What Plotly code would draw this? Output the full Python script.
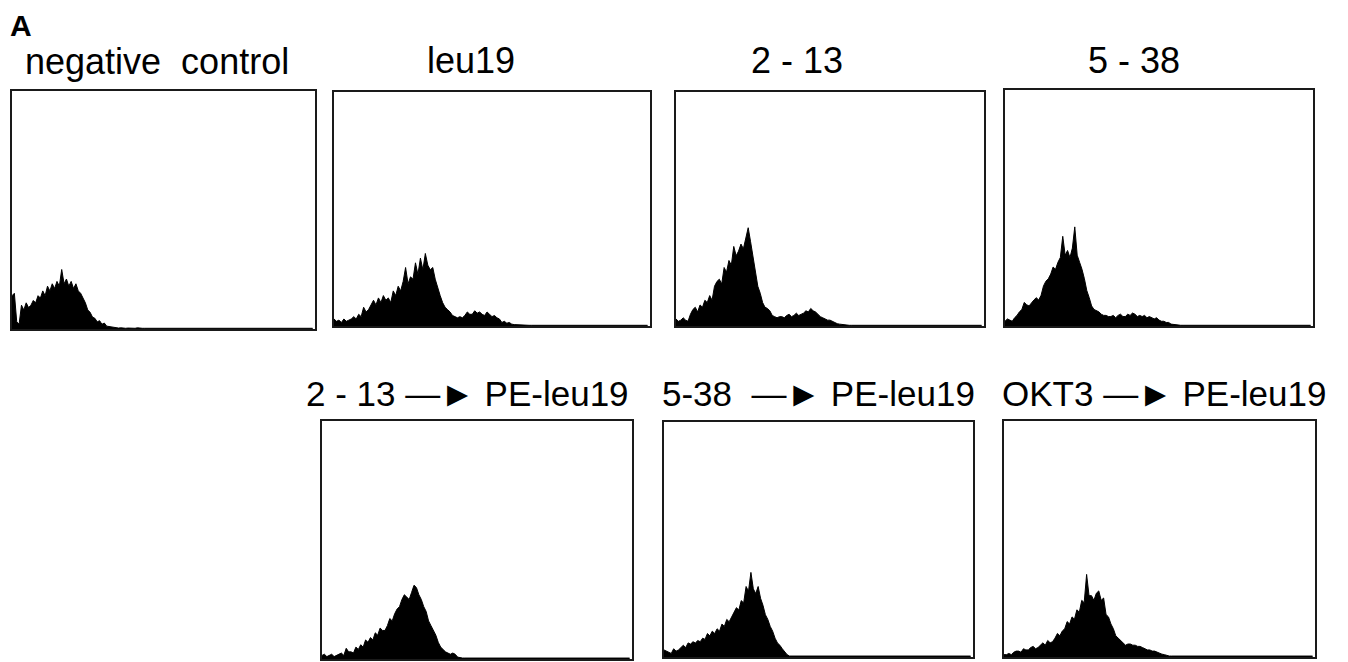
import plotly.graph_objects as go

# ---- data: histogram counts (% of panel height) per 2-channel bin ----
CHANNELS = [2 * i for i in range(128)]

titles = ["negative\u00a0 control", "leu19", "2 - 13", "5 - 38",
          "2 - 13 \u2014\u25ba PE-leu19", "5-38 \u00a0\u2014\u25ba PE-leu19", "OKT3 \u2014\u25ba PE-leu19"]

neg_control = [14, 15, 3, 2, 10, 8, 11, 9, 10, 12, 11, 14, 13, 16, 14, 18,
               16, 19, 17, 20, 18, 25, 19, 21, 18, 20, 17, 19, 16, 15, 13, 11,
               8, 7, 5, 4.5, 3, 3.5, 2, 2.5, 1.2, 1, 0.8, 0.6, 0.5, 0.4, 0.5, 0.3,
               0.3, 0.4, 0.3, 0.3, 0.3, 0.5, 0.3, 0.3, 0.3, 0.3, 0.3, 0.3, 0.3, 0.3, 0.3, 0.3,
               0.3, 0.3, 0.3, 0.3, 0.3, 0.3, 0.3, 0.3, 0.3, 0.3, 0.3, 0.3, 0.3, 0.3, 0.3, 0.3,
               0.3, 0.3, 0.3, 0.3, 0.3, 0.3, 0.3, 0.3, 0.3, 0.3, 0.3, 0.3, 0.3, 0.3, 0.3, 0.3,
               0.3, 0.3, 0.3, 0.3, 0.3, 0.3, 0.3, 0.3, 0.3, 0.3, 0.3, 0.3, 0.3, 0.3, 0.3, 0.3,
               0.3, 0.3, 0.3, 0.3, 0.3, 0.3, 0.3, 0.3, 0.3, 0.3, 0.3, 0.3, 0.3, 0.3, 0.3, 0.3]

leu19 = [3, 2, 2.5, 1.5, 3, 2, 2.5, 3, 4, 3, 5, 4, 8, 6, 7, 9,
         11, 9, 12, 10, 13, 11, 12, 10, 15, 13, 17, 15, 19, 25, 18, 21,
         20, 27, 22, 29, 24, 31, 26, 24, 25, 20, 16, 13, 10, 8, 7, 6,
         4.5, 4, 3.5, 4, 3.5, 4.5, 6, 5, 5, 6.5, 5.5, 6, 5, 4.5, 6, 5,
         4, 4.5, 3.5, 3, 1.5, 2, 1.2, 1.5, 0.8, 0.6, 0.5, 0.6, 0.4, 0.5, 0.4, 0.3,
         0.3, 0.3, 0.3, 0.3, 0.3, 0.3, 0.3, 0.3, 0.3, 0.3, 0.3, 0.3, 0.3, 0.3, 0.3, 0.3,
         0.3, 0.3, 0.3, 0.3, 0.3, 0.3, 0.3, 0.3, 0.3, 0.3, 0.3, 0.3, 0.3, 0.3, 0.3, 0.3,
         0.3, 0.3, 0.3, 0.3, 0.3, 0.3, 0.3, 0.3, 0.3, 0.3, 0.3, 0.3, 0.3, 0.3, 0.3, 0.3]

ab_2_13 = [3, 2, 2.5, 3.5, 2.5, 2, 5, 7, 8, 6, 9, 8, 11, 10, 13, 11,
           17, 19, 20, 18, 25, 23, 28, 26, 34, 30, 32, 35, 33, 38, 42, 36,
           30, 24, 17, 14, 10, 8, 7.5, 6.5, 4.5, 4, 3.5, 4, 4, 3.5, 4.5, 5,
           4, 4.5, 5.5, 4.5, 5, 5.5, 6.5, 6, 7.5, 6.5, 6, 5, 4, 3.5, 3, 2.5,
           2.5, 2, 1.2, 1, 0.8, 0.6, 0.5, 0.4, 0.3, 0.3, 0.3, 0.3, 0.3, 0.3, 0.3, 0.3,
           0.3, 0.3, 0.3, 0.3, 0.3, 0.3, 0.3, 0.3, 0.3, 0.3, 0.3, 0.3, 0.3, 0.3, 0.3, 0.3,
           0.3, 0.3, 0.3, 0.3, 0.3, 0.3, 0.3, 0.3, 0.3, 0.3, 0.3, 0.3, 0.3, 0.3, 0.3, 0.3,
           0.3, 0.3, 0.3, 0.3, 0.3, 0.3, 0.3, 0.3, 0.3, 0.3, 0.3, 0.3, 0.3, 0.3, 0.3, 0.3]

ab_5_38 = [2, 3, 2.5, 2, 3.5, 4.5, 6, 7, 10, 9, 8.5, 10, 11, 12, 11, 13,
           17, 19, 20, 22, 25, 24, 27, 29, 38, 30, 32, 29, 33, 42, 30, 27,
           24, 20, 15, 12, 8.5, 7, 6.5, 6, 5, 4.5, 4.5, 4, 4, 4.5, 3.5, 4.5,
           5, 4, 4, 5, 4.5, 5.5, 5, 4, 4.5, 4, 4.5, 3.5, 4, 3.5, 3, 3.5,
           2.5, 2, 2, 1.5, 1.5, 0.8, 0.6, 0.4, 0.3, 0.3, 0.3, 0.3, 0.3, 0.3, 0.3, 0.3,
           0.3, 0.3, 0.3, 0.3, 0.3, 0.3, 0.3, 0.3, 0.3, 0.3, 0.3, 0.3, 0.3, 0.3, 0.3, 0.3,
           0.3, 0.3, 0.3, 0.3, 0.3, 0.3, 0.3, 0.3, 0.3, 0.3, 0.3, 0.3, 0.3, 0.3, 0.3, 0.3,
           0.3, 0.3, 0.3, 0.3, 0.3, 0.3, 0.3, 0.3, 0.3, 0.3, 0.3, 0.3, 0.3, 0.3, 0.3, 0.3]

pe_after_2_13 = [1.5, 2, 1, 1.5, 2, 1, 1.5, 2, 2.5, 1.5, 4.5, 3, 3, 2.5, 5, 4,
                 6, 5, 8, 7, 9, 8, 11, 10, 13, 12, 12, 14, 17, 16, 19, 21,
                 22, 25, 27, 26, 25, 28, 31, 30, 27, 25, 22, 20, 16, 14, 12, 10,
                 7, 5, 4, 3, 2.5, 2, 2.5, 2, 0.8, 0.5, 0.4, 0.4, 0.4, 0.4, 0.4, 0.4,
                 0.4, 0.4, 0.4, 0.4, 0.4, 0.4, 0.4, 0.4, 0.4, 0.4, 0.4, 0.4, 0.4, 0.4, 0.4, 0.4,
                 0.4, 0.4, 0.4, 0.4, 0.4, 0.4, 0.4, 0.4, 0.4, 0.4, 0.4, 0.4, 0.4, 0.4, 0.4, 0.4,
                 0.4, 0.4, 0.4, 0.4, 0.4, 0.4, 0.4, 0.4, 0.4, 0.4, 0.4, 0.4, 0.4, 0.4, 0.4, 0.4,
                 0.4, 0.4, 0.4, 0.4, 0.4, 0.4, 0.4, 0.4, 0.4, 0.4, 0.4, 0.4, 0.4, 0.4, 0.4, 0.4]

pe_after_5_38 = [3, 2.5, 2, 1.5, 3.5, 2.5, 3, 4, 5, 4, 6, 5.5, 6.5, 6, 7, 6.5,
                 8, 7.5, 10, 9, 11, 10, 12, 11, 14, 13, 16, 15, 17, 19, 21, 20,
                 24, 23, 30, 28, 36, 29, 27, 30, 25, 22, 18, 16, 13, 11, 8, 6,
                 5, 3.5, 2, 1, 0.4, 0.4, 0.4, 0.4, 0.4, 0.4, 0.4, 0.4, 0.4, 0.4, 0.4, 0.4,
                 0.4, 0.4, 0.4, 0.4, 0.4, 0.4, 0.4, 0.4, 0.4, 0.4, 0.4, 0.4, 0.4, 0.4, 0.4, 0.4,
                 0.4, 0.4, 0.4, 0.4, 0.4, 0.4, 0.4, 0.4, 0.4, 0.4, 0.4, 0.4, 0.4, 0.4, 0.4, 0.4,
                 0.4, 0.4, 0.4, 0.4, 0.4, 0.4, 0.4, 0.4, 0.4, 0.4, 0.4, 0.4, 0.4, 0.4, 0.4, 0.4,
                 0.4, 0.4, 0.4, 0.4, 0.4, 0.4, 0.4, 0.4, 0.4, 0.4, 0.4, 0.4, 0.4, 0.4, 0.4, 0.4]

pe_after_okt3 = [1, 1, 1.5, 1, 2, 2.5, 2.5, 2, 3.5, 3, 3, 4, 4.5, 3.5, 4, 5,
                 6, 5, 7, 6, 6.5, 8, 10, 9, 11, 12, 15, 14, 17, 16, 20, 19,
                 24, 23, 35, 26, 26, 24, 27, 28, 24, 25, 18, 17, 14, 12, 9, 8,
                 7, 6, 5, 5.5, 5.5, 5, 5, 4.5, 4.5, 4, 3.5, 3, 3, 2.5, 2.5, 2,
                 1.5, 1.2, 1, 0.6, 0.4, 0.4, 0.4, 0.4, 0.4, 0.4, 0.4, 0.4, 0.4, 0.4, 0.4, 0.4,
                 0.4, 0.4, 0.4, 0.4, 0.4, 0.4, 0.4, 0.4, 0.4, 0.4, 0.4, 0.4, 0.4, 0.4, 0.4, 0.4,
                 0.4, 0.4, 0.4, 0.4, 0.4, 0.4, 0.4, 0.4, 0.4, 0.4, 0.4, 0.4, 0.4, 0.4, 0.4, 0.4,
                 0.4, 0.4, 0.4, 0.4, 0.4, 0.4, 0.4, 0.4, 0.4, 0.4, 0.4, 0.4, 0.4, 0.4, 0.4, 0.4]

series = [neg_control, leu19, ab_2_13, ab_5_38, pe_after_2_13, pe_after_5_38, pe_after_okt3]

# ---- layout (screen pixel boxes: left, top, right, bottom) ----
OFF = 8                      # default page body margin
W, H = 1348 - OFF, 662 - OFF
boxes = [(12, 91, 315, 329), (334, 92, 650, 326), (676, 92, 984, 326), (1005, 90, 1313, 326),
         (322, 421, 632, 659), (664, 422, 973, 657), (1004, 421, 1315, 657)]
title_pos = [(157, 62), (471, 60), (797, 60), (1134, 60),
             (467, 393), (818, 393), (1164, 393)]
title_size = [36, 36, 36, 36, 35, 35, 35]


def fx(px):
    return (px - OFF) / W


def fy(py):
    return 1 - (py - OFF) / H


fig = go.Figure()
layout = dict(width=W, height=H, margin=dict(l=0, r=0, t=0, b=0),
              paper_bgcolor="white", plot_bgcolor="white", showlegend=False)
annotations = []
for i, (vals, box, t, tp, ts) in enumerate(zip(series, boxes, titles, title_pos, title_size)):
    n = i + 1
    xa = "x" if n == 1 else f"x{n}"
    ya = "y" if n == 1 else f"y{n}"
    fig.add_trace(go.Scatter(x=CHANNELS, y=vals, mode="lines", fill="tozeroy",
                             line=dict(color="black", width=1), fillcolor="black",
                             xaxis=xa, yaxis=ya, hoverinfo="skip"))
    l, t_, r, b = box
    axcommon = dict(showticklabels=False, showgrid=False, zeroline=False, ticks="",
                    showline=True, mirror=True, linecolor="#1a1a1a", linewidth=1.5)
    layout[f"xaxis{'' if n == 1 else n}"] = dict(domain=[fx(l), fx(r)], range=[0, 256],
                                                  anchor=ya, **axcommon)
    layout[f"yaxis{'' if n == 1 else n}"] = dict(domain=[fy(b), fy(t_)], range=[0, 100],
                                                  anchor=xa, **axcommon)
    annotations.append(dict(text=t, x=fx(tp[0]), y=fy(tp[1]), xref="paper", yref="paper",
                            xanchor="center", yanchor="middle", showarrow=False,
                            font=dict(family="Liberation Sans, Arial", size=ts, color="black")))

annotations.append(dict(text="<b>A</b>", x=fx(9), y=1.0, xref="paper", yref="paper",
                        xanchor="left", yanchor="top", showarrow=False, borderpad=0,
                        font=dict(family="Liberation Sans, Arial", size=30, color="black")))
layout["annotations"] = annotations
fig.update_layout(**layout)
fig.write_html("out.html")
